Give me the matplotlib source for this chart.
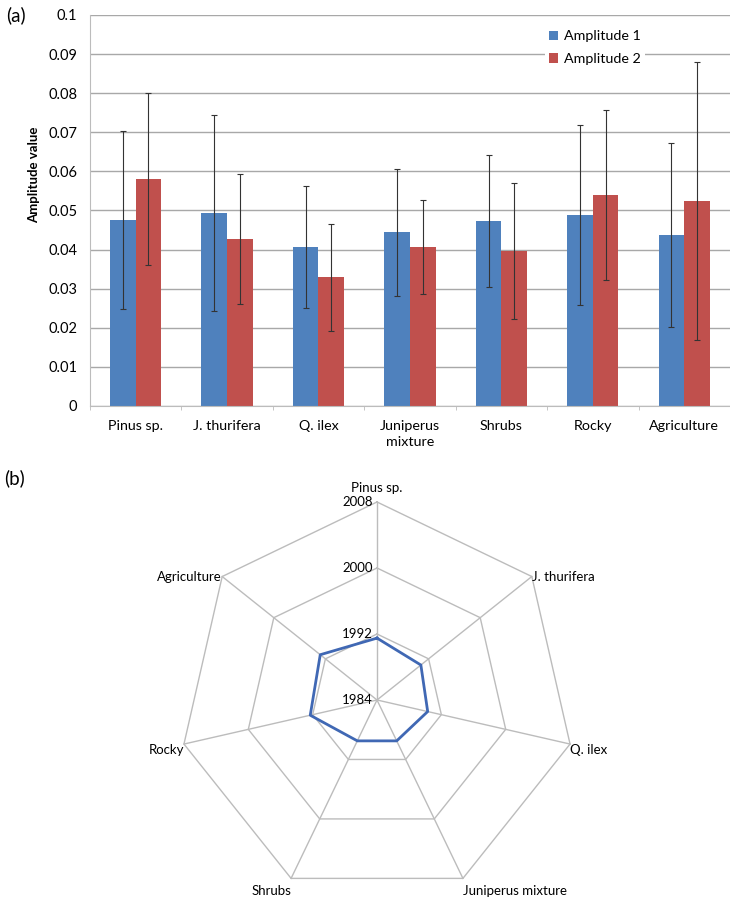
import numpy as np
import matplotlib
matplotlib.use("Agg")
import matplotlib.pyplot as plt

plt.rcParams['font.family'] = ['Lato', 'DejaVu Sans']

# --- (a) amplitude data
clases = ["Pinus sp.", "J. thurifera", "Q. ilex", "Juniperus\nmixture",
          "Shrubs", "Rocky", "Agriculture"]
amp1 = [0.0476, 0.0493, 0.0407, 0.0444, 0.0473, 0.0488, 0.0437]
amp2 = [0.0580, 0.0427, 0.0329, 0.0407, 0.0396, 0.0540, 0.0524]
err1 = [0.0227, 0.0250, 0.0156, 0.0163, 0.0170, 0.0230, 0.0235]
err2 = [0.0220, 0.0166, 0.0137, 0.0120, 0.0174, 0.0217, 0.0355]
yticks = [0, 0.01, 0.02, 0.03, 0.04, 0.05, 0.06, 0.07, 0.08, 0.09, 0.1]

# --- (b) radar data (year)
radar_labels = ["Pinus sp.", "J. thurifera", "Q. ilex", "Juniperus mixture",
                "Shrubs", "Rocky", "Agriculture"]
anios = [1991.5, 1990.8, 1990.3, 1989.5, 1989.5, 1992.3, 1992.8]
anillos = [1984, 1992, 2000, 2008]

azul = "#4f81bd"
rojo = "#c0504d"
gris = "#bcbcbc"

fig = plt.figure(figsize=(7.3, 8.98), dpi=100)

# ---------------- bar chart
ax = fig.add_axes([0.123, 0.548, 0.877, 0.4353])
x = np.arange(len(clases))
w = 0.28
ax.bar(x - w/2, amp1, w, color=azul, label="Amplitude 1", zorder=2)
ax.bar(x + w/2, amp2, w, color=rojo, label="Amplitude 2", zorder=2)
ax.errorbar(x - w/2, amp1, yerr=err1, fmt="none", ecolor="#333333",
            elinewidth=0.8, capsize=2, capthick=0.8, zorder=3)
ax.errorbar(x + w/2, amp2, yerr=err2, fmt="none", ecolor="#333333",
            elinewidth=0.8, capsize=2, capthick=0.8, zorder=3)
ax.set_ylim(0, 0.1)
ax.set_xlim(-0.5, 6.5)
ax.set_yticks(yticks)
ax.set_yticklabels(["0", "0.01", "0.02", "0.03", "0.04", "0.05", "0.06",
                    "0.07", "0.08", "0.09", "0.1"], fontsize=10.5)
ax.set_xticks(x)
ax.set_xticklabels(clases, fontsize=10.3, linespacing=1.45)
ax.set_xticks(np.arange(-0.5, 7, 1), minor=True)
ax.tick_params(axis="x", which="major", length=0, pad=10)
ax.tick_params(axis="x", which="minor", length=3, color=gris)
ax.tick_params(axis="y", length=0, pad=9)
ax.yaxis.grid(True, color="#a8a8a8", lw=1, zorder=0)
ax.set_axisbelow(True)
for s in ["top", "right"]:
    ax.spines[s].set_visible(False)
ax.spines["left"].set_color(gris)
ax.spines["bottom"].set_color(gris)
ax.set_ylabel("Amplitude value", fontsize=9.5, fontweight="bold", labelpad=8)
ax.yaxis.set_label_coords(-0.078, 0.59)
leg = ax.legend(loc="upper left", bbox_to_anchor=(0.7, 0.99), fontsize=10.3,
                frameon=True, handlelength=0.6, handleheight=0.6,
                handletextpad=0.4, borderpad=0.3, labelspacing=0.75)
leg.get_frame().set_edgecolor("none")
leg.get_frame().set_facecolor("white")
leg.get_frame().set_alpha(1)

fig.text(0.008, 0.983, "(a)", fontsize=13.5, va="center")
fig.text(0.006, 0.468, "(b)", fontsize=13.5, va="center")

# ---------------- radar chart
rax = fig.add_axes([0.2452, 0.0, 0.5425, 0.441], projection="polar")
rax.set_theta_zero_location("N")
rax.set_theta_direction(-1)
n = len(radar_labels)
ang = np.arange(n) * 2 * np.pi / n
ang_c = np.append(ang, ang[0])
rax.set_ylim(anillos[0], anillos[-1])
rax.grid(False)
rax.set_xticks([])
rax.set_yticks([])
rax.spines["polar"].set_visible(False)

for r in anillos[1:]:
    rax.plot(ang_c, [r] * (n + 1), color=gris, lw=1, clip_on=False)
for a in ang:
    rax.plot([a, a], [anillos[0], anillos[-1]], color=gris, lw=1, clip_on=False)

vals = anios + [anios[0]]
rax.plot(ang_c, vals, color="#4068b4", lw=2, clip_on=False, zorder=3)

for r in anillos:
    rax.annotate(str(r), xy=(0, r), xytext=(-3, 0), textcoords="offset points",
                 ha="right", va="center", fontsize=9.5)

# label placement around the vertices
for a, lab in zip(ang, radar_labels):
    s = np.sin(a)
    c = np.cos(a)
    if abs(s) < 0.1:
        ha, off = "center", (0, 10)
    elif s > 0:
        ha, off = "left", (0, -4 if c < 0 else 0)
    else:
        ha, off = "right", (0, -4 if c < 0 else 0)
    if c < -0.8:
        off = (0, -9)
    rax.annotate(lab, xy=(a, anillos[-1]), xytext=off, textcoords="offset points",
                 ha=ha, va="center", fontsize=9.5, annotation_clip=False)

fig.savefig("out.png", dpi=100)
